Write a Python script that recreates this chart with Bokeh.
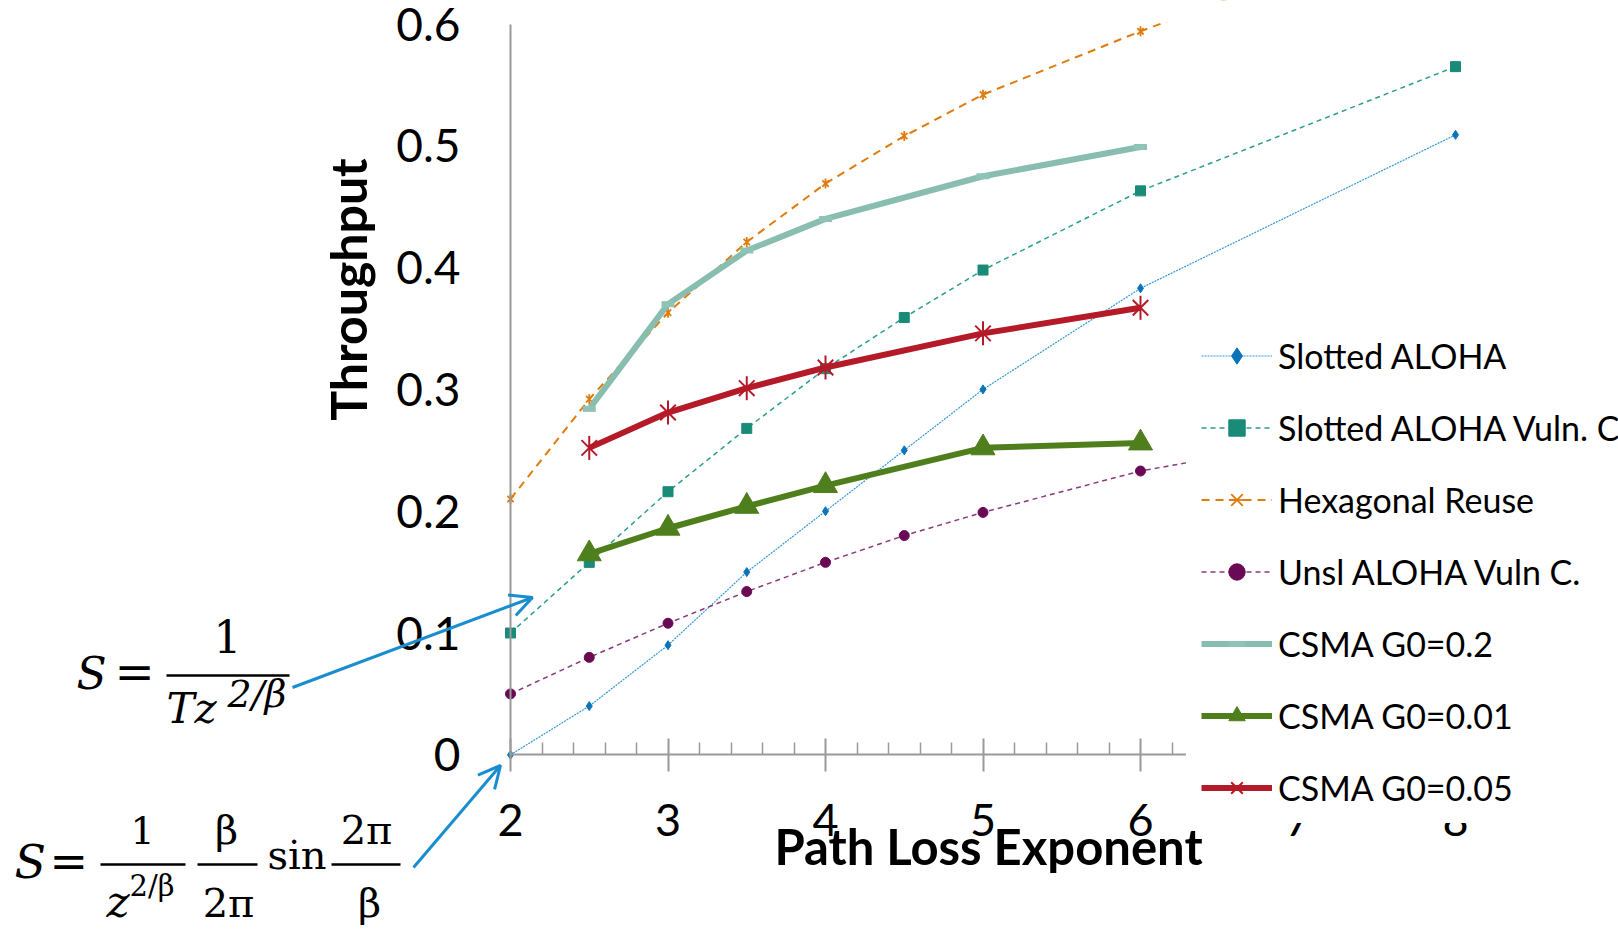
import numpy as np
from bokeh.plotting import figure
from bokeh.models import (LinearAxis, FixedTicker, Range1d, Legend, LegendItem,
                          Label, Arrow, OpenHead, BoxAnnotation)
from bokeh.embed import file_html
from bokeh.resources import INLINE

# ---------------- data ----------------
path_loss = [2, 2.5, 3, 3.5, 4, 4.5, 5, 6, 8]
slotted_aloha = [0.000, 0.040, 0.090, 0.150, 0.200, 0.250, 0.300, 0.383, 0.509]
slotted_vuln_c = [0.100, 0.158, 0.216, 0.268, 0.317, 0.359, 0.398, 0.463, 0.565]
hexagonal_reuse = [0.210, 0.292, 0.363, 0.421, 0.469, 0.508, 0.542, 0.594, 0.690]
unsl_vuln_c = [0.050, 0.080, 0.108, 0.134, 0.158, 0.180, 0.199, 0.233, 0.279]

csma_x = [2.5, 3, 3.5, 4, 5, 6]
csma_g02 = [0.284, 0.370, 0.414, 0.440, 0.475, 0.499]
csma_g001 = [0.165, 0.186, 0.204, 0.221, 0.252, 0.256]
csma_g005 = [0.252, 0.281, 0.301, 0.318, 0.346, 0.367]

series_names = ["Slotted ALOHA", "Slotted ALOHA Vuln. C", "Hexagonal Reuse",
                "Unsl ALOHA Vuln C.", "CSMA G0=0.2", "CSMA G0=0.01", "CSMA G0=0.05"]

x_ticks = [2, 3, 4, 5, 6, 7, 8]
x_tick_labels = ["2", "3", "4", "5", "6", "7", "8"]
y_ticks = [0, 0.1, 0.2, 0.3, 0.4, 0.5, 0.6]
y_tick_labels = ["0", "0.1", "0.2", "0.3", "0.4", "0.5", "0.6"]

x_title = "Path Loss Exponent"
y_title = "Throughput"

# ---------------- layout ----------------
W, H = 1618, 929
PX_X, PX_Y = 157.5, 1218.0          # pixels per data unit
ORIGIN_X, ORIGIN_Y = 510.0, 754.3   # canvas position of (2, 0)
Y_TOP = 0.6012                      # top of the original plot area

x_start = 2 - ORIGIN_X / PX_X
x_end = x_start + W / PX_X
y_end = ORIGIN_Y / PX_Y
y_start = y_end - H / PX_Y


def px(xp):   # canvas pixel -> data x
    return 2 + (xp - ORIGIN_X) / PX_X


def py(yp):   # canvas pixel -> data y
    return (ORIGIN_Y - yp) / PX_Y


GRAY = "#9a9a9a"
FONT = "Lato"
SERIF = "DejaVu Serif"

p = figure(width=W, height=H, x_range=Range1d(x_start, x_end), y_range=Range1d(y_start, y_end),
           x_axis_location=None, y_axis_location=None, toolbar_location=None,
           output_backend="svg", min_border_left=0, min_border_right=0,
           min_border_top=0, min_border_bottom=0, outline_line_color=None,
           background_fill_color="white", border_fill_color="white")
p.title.visible = False
p.grid.visible = False

minor = [round(2 + 0.2 * i, 1) for i in range(1, 35) if i % 5 != 0]
xaxis = LinearAxis(ticker=FixedTicker(ticks=x_ticks, minor_ticks=minor), fixed_location=0,
                   bounds=(2, x_end), axis_line_color=GRAY, axis_line_width=2,
                   major_tick_in=16, major_tick_out=17, minor_tick_in=12, minor_tick_out=0,
                   major_tick_line_color=GRAY, minor_tick_line_color=GRAY,
                   major_tick_line_width=2, minor_tick_line_width=1.5,
                   major_label_text_font=FONT, major_label_text_font_size="45px",
                   major_label_text_color="black", major_label_standoff=32,
                   major_label_overrides=dict(zip(x_ticks, x_tick_labels)))
p.add_layout(xaxis, "below")

yaxis = LinearAxis(ticker=FixedTicker(ticks=y_ticks), fixed_location=2, bounds=(0, 0.6),
                   axis_line_color=GRAY, axis_line_width=2,
                   major_tick_in=0, major_tick_out=0, minor_tick_in=0, minor_tick_out=0,
                   major_label_text_font=FONT, major_label_text_font_size="46px",
                   major_label_text_color="black", major_label_standoff=50,
                   major_label_overrides=dict(zip(y_ticks, y_tick_labels)))
p.add_layout(yaxis, "left")

# ---------------- series ----------------
items = []

r1 = p.line(path_loss, slotted_aloha, line_color="#3597d8", line_width=1.2, line_dash="2 1")
m1 = p.scatter(path_loss, slotted_aloha, marker="diamond", size=9, fill_color="#0b74b9",
               line_color="#0b74b9")
items.append(LegendItem(label=series_names[0], renderers=[r1, m1]))

r2 = p.line(path_loss, slotted_vuln_c, line_color="#2a9d8c", line_width=1.5, line_dash="5 4")
m2 = p.scatter(path_loss, slotted_vuln_c, marker="square", size=10, fill_color="#1a8a79",
               line_color="#1a8a79")
items.append(LegendItem(label=series_names[1], renderers=[r2, m2]))

r3 = p.line(path_loss, hexagonal_reuse, line_color="#e07b0c", line_width=2, line_dash="8 6")
m3a = p.scatter(path_loss, hexagonal_reuse, marker="x", size=9, line_color="#e07b0c", line_width=1.8)
m3b = p.scatter(path_loss, hexagonal_reuse, marker="dash", angle=np.pi / 2, size=10,
                line_color="#e07b0c", line_width=1.8)
items.append(LegendItem(label=series_names[2], renderers=[r3, m3a, m3b]))

r4 = p.line(path_loss, unsl_vuln_c, line_color="#8a3a7c", line_width=1.5, line_dash="5 4")
m4 = p.scatter(path_loss, unsl_vuln_c, marker="circle", size=10, fill_color="#6a0a55",
               line_color="#6a0a55")
items.append(LegendItem(label=series_names[3], renderers=[r4, m4]))

r5 = p.line(csma_x, csma_g02, line_color="#88bdb0", line_width=6)
m5 = p.scatter(csma_x, csma_g02, marker="dash", size=13, line_color="#8fc3b6", line_width=6)
items.append(LegendItem(label=series_names[4], renderers=[r5, m5]))

r6 = p.line(csma_x, csma_g001, line_color="#4f7f1d", line_width=6)
m6 = p.scatter(csma_x, csma_g001, marker="triangle", size=24, fill_color="#4f7f1d",
               line_color="#4f7f1d")
items.append(LegendItem(label=series_names[5], renderers=[r6, m6]))

r7 = p.line(csma_x, csma_g005, line_color="#b51a28", line_width=6)
m7a = p.scatter(csma_x, csma_g005, marker="x", size=22, line_color="#b51a28", line_width=2)
m7b = p.scatter(csma_x, csma_g005, marker="dash", angle=np.pi / 2, size=24,
                line_color="#b51a28", line_width=2)
items.append(LegendItem(label=series_names[6], renderers=[r7, m7a, m7b]))

# white strip above the original plot area (the original chart clips there)
p.add_layout(BoxAnnotation(left=px(560), right=x_end + 1, bottom=Y_TOP, top=y_end + 0.05,
                           fill_color="white", fill_alpha=1.0, line_alpha=0, level="overlay"))

legend = Legend(items=items, location=(1186, 106), orientation="vertical",
                label_text_font=FONT, label_text_font_size="34px", label_text_color="black",
                glyph_width=71, glyph_height=41, label_height=41, label_standoff=6,
                spacing=31, padding=15, margin=0, border_line_alpha=0,
                background_fill_color="white", background_fill_alpha=1.0)
p.add_layout(legend)

# ---------------- axis titles ----------------
p.add_layout(Label(x=px(347), y=py(289), text=y_title, angle=np.pi / 2,
                   text_font=FONT, text_font_style="bold", text_font_size="50px",
                   text_align="center", text_baseline="alphabetic", text_color="black"))
p.add_layout(Label(x=px(988), y=py(862 - 17), text=x_title,
                   text_font=FONT, text_font_style="bold", text_font_size="49px",
                   text_align="center", text_baseline="alphabetic", text_color="black"))


# ---------------- formulas ----------------
def tx(text, xp, yp, size, italic=False, align="left"):
    p.add_layout(Label(x=px(xp), y=py(yp - 0.35 * size), text=text, text_font=SERIF,
                       text_font_size=f"{size}px", text_font_style="italic" if italic else "normal",
                       text_align=align, text_baseline="alphabetic", text_color="black"))


def bar(x0, x1, yp):
    p.add_layout(Arrow(start=None, end=None, x_start=px(x0), y_start=py(yp), x_end=px(x1),
                       y_end=py(yp), line_color="black", line_width=2.5))


# S = 1 / (T z^{2/beta})
tx("S", 76, 688, 44, italic=True)
tx("=", 114, 688, 48)
bar(166, 289, 675)
tx("1", 227, 651, 44, align="center")
tx("Tz", 166, 723, 42, italic=True)
tx("2/β", 227, 707, 38, italic=True)

# S = 1/z^{2/beta} * beta/(2 pi) * sin(2 pi / beta)
tx("S", 14, 878, 46, italic=True)
tx("=", 49, 877, 46)
bar(100, 185, 864)
tx("1", 142, 843, 38, align="center")
tx("z", 106, 916, 44, italic=True)
tx("2/β", 129, 896, 29)
bar(197, 257, 864)
tx("β", 226, 843, 40, align="center")
tx("2π", 228, 916, 40, align="center")
tx("sin", 267, 868, 40)
bar(331, 400, 864)
tx("2π", 366, 843, 40, align="center")
tx("β", 369, 916, 40, align="center")

BLUE = "#1a8cd0"
p.add_layout(Arrow(end=OpenHead(size=22, line_color=BLUE, line_width=3),
                   x_start=px(292), y_start=py(687), x_end=px(532), y_end=py(597),
                   line_color=BLUE, line_width=3))
p.add_layout(Arrow(end=OpenHead(size=22, line_color=BLUE, line_width=3),
                   x_start=px(413), y_start=py(867), x_end=px(500), y_end=py(765),
                   line_color=BLUE, line_width=3))

open("out.html", "w").write(file_html(p, INLINE))
